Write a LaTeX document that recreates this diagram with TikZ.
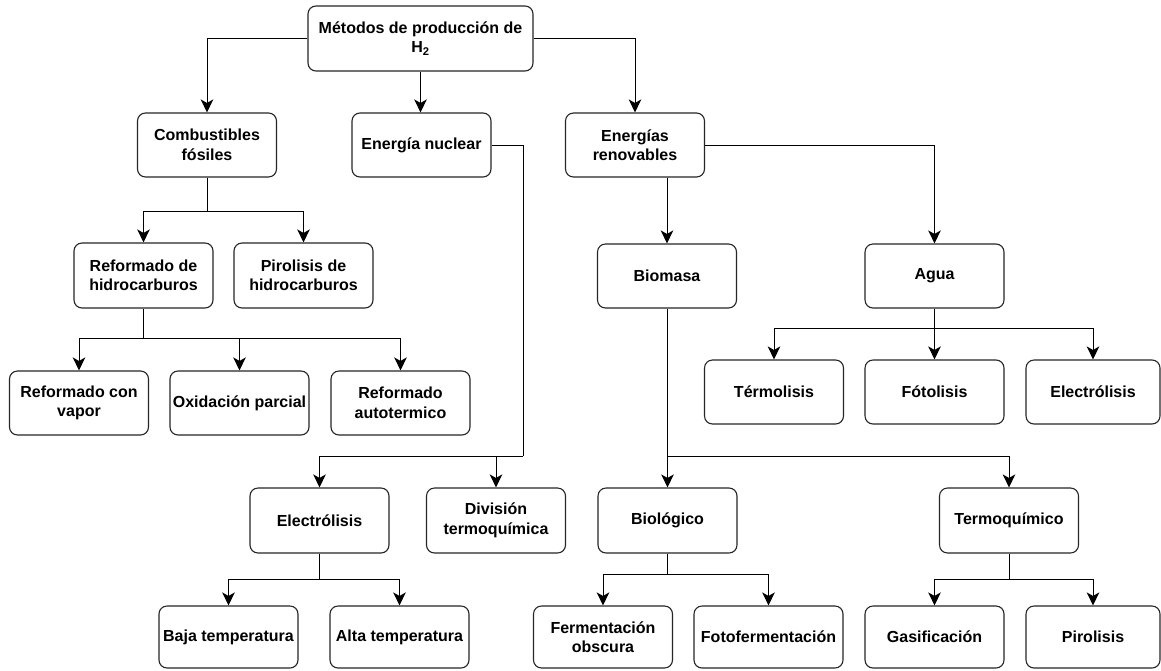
\documentclass[tikz,border=0pt]{standalone}
\usepackage{fontspec}
\setmainfont{Liberation Sans}
\usetikzlibrary{arrows.meta}
\tikzset{
  box/.style={draw=black!85, line width=1.1pt, rounded corners=8pt, fill=white,
    minimum width=139pt, minimum height=63pt, inner sep=1pt, align=center,
    font=\fontsize{16}{19.5}\selectfont\bfseries},
  link/.style={draw=black, line width=1pt},
  arr/.style={link, -{Stealth[length=13pt,width=12.5pt,inset=3.5pt]}}
}
\begin{document}
\begin{tikzpicture}[x=1pt,y=-1pt]
\useasboundingbox[fill=white] (0,0) rectangle (1161,670);

% level 0
\node[box, minimum width=225pt, minimum height=65pt] (top) at (420.5,38.5) {Métodos de producción de\\H\textsubscript{2}};

% level 1
\node[box, minimum height=64pt] (comb) at (207,145) {Combustibles\\fósiles};
\node[box, minimum height=64pt] (nuc)  at (421.5,145) {Energía nuclear};
\node[box, minimum height=64pt] (ren)  at (635,145) {Energías\\renovables};

% level 2
\node[box, minimum height=65pt] (refh) at (143.5,275.5) {Reformado de\\hidrocarburos};
\node[box, minimum height=65pt] (pirh) at (303.5,275.5) {Pirolisis de\\hidrocarburos};
\node[box, minimum height=64pt] (biom) at (667,276) {Biomasa};
\node[box, minimum height=64pt] (agua) at (934.5,276) {Agua};

% fossil reforming
\node[box, minimum height=64pt] (rcv) at (79,403) {Reformado con\\vapor};
\node[box, minimum height=64pt] (oxp) at (239.5,403) {Oxidación parcial};
\node[box, minimum height=64pt] (rat) at (400.5,403) {Reformado\\autotermico};

% water
\node[box, minimum height=64pt] (term) at (774,392) {Térmolisis};
\node[box, minimum height=64pt] (foto) at (934.5,392) {Fótolisis};
\node[box, minimum height=64pt, minimum width=134pt] (elr) at (1093,392) {Electrólisis};

% nuclear / biomass subtypes
\node[box, minimum height=65pt] (elec)  at (319.5,520.5) {Electrólisis};
\node[box, minimum height=65pt] (divt)  at (496,520.5) {División\\termoquímica};
\node[box, minimum height=65pt] (biol)  at (667.5,520.5) {Biológico};
\node[box, minimum height=65pt] (termq) at (1009,520.5) {Termoquímico};

% leaves
\node[box, minimum height=62pt] (baja)  at (228.5,637) {Baja temperatura};
\node[box, minimum height=62pt] (alta)  at (399.5,637) {Alta temperatura};
\node[box, minimum height=62pt] (ferm)  at (603,637) {Fermentación\\obscura};
\node[box, minimum height=62pt, minimum width=149pt] (fotof) at (768.5,637) {Fotofermentación};
\node[box, minimum height=62pt] (gas)   at (934.5,637) {Gasificación};
\node[box, minimum height=62pt, minimum width=134pt] (piro)  at (1093,637) {Pirolisis};

% junction points of the branching connectors
\coordinate (jc) at (207,211);
\coordinate (jr) at (143.5,338);
\coordinate (jn) at (523,456);
\coordinate (ja) at (934.5,328);
\coordinate (jb) at (667,456);
\coordinate (je) at (319.5,579);
\coordinate (jbi) at (667.5,574);
\coordinate (jt) at (1009,579);

% from the root
\draw[arr] (top.west) -| (comb.north);
\draw[arr] (top.south) -- (top.south |- nuc.north);
\draw[arr] (top.east) -| (ren.north);

% fossil fuels
\draw[link] (comb.south) -- (jc);
\draw[arr] (jc) -| (refh.north);
\draw[arr] (jc) -| (pirh.north);
\draw[link] (refh.south) -- (jr);
\draw[arr] (jr) -| (rcv.north);
\draw[arr] (jr) -| (oxp.north);
\draw[arr] (jr) -| (rat.north);

% nuclear
\draw[link] (nuc.east) -| (jn);
\draw[arr] (jn) -| (elec.north);
\draw[arr] (jn) -| (divt.north);
\draw[link] (elec.south) -- (je);
\draw[arr] (je) -| (baja.north);
\draw[arr] (je) -| (alta.north);

% renewables
\draw[arr] (biom.north |- ren.south) -- (biom.north);
\draw[arr] (ren.east) -| (agua.north);
\draw[link] (agua.south) -- (ja);
\draw[arr] (ja) -| (term.north);
\draw[arr] (ja) -- (foto.north);
\draw[arr] (ja) -| (elr.north);
\draw[link] (biom.south) -- (jb);
\draw[arr] (jb) -| (biol.north);
\draw[arr] (jb) -| (termq.north);
\draw[link] (biol.south) -- (jbi);
\draw[arr] (jbi) -| (ferm.north);
\draw[arr] (jbi) -| (fotof.north);
\draw[link] (termq.south) -- (jt);
\draw[arr] (jt) -| (gas.north);
\draw[arr] (jt) -| (piro.north);
\end{tikzpicture}
\end{document}
